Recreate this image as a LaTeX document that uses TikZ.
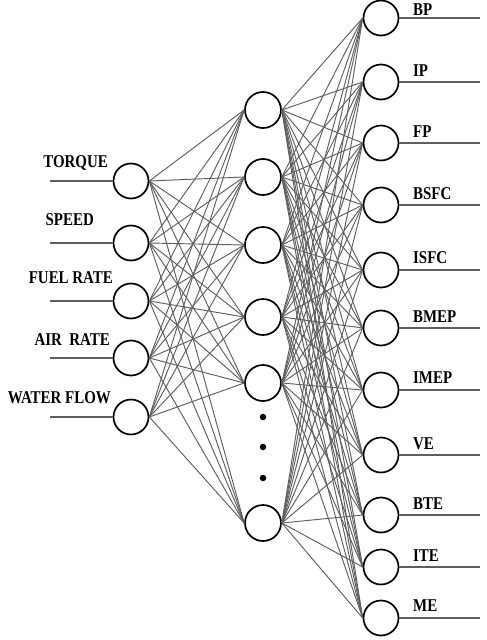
\documentclass[tikz,border=0pt]{standalone}
\usepackage{fontspec}
\setmainfont{Liberation Serif}
\definecolor{conncol}{RGB}{95,95,95}
\begin{document}
\begin{tikzpicture}[x=1pt,y=-1pt,
  neuron/.style={circle,draw=black,line width=1.7pt,minimum size=35pt,inner sep=0pt,fill=white},
  conn/.style={draw=conncol,line width=0.95pt},
  ioline/.style={draw=conncol,line width=1.3pt},
  lab/.style={font=\bfseries\fontsize{18}{18}\selectfont,inner sep=0pt,xscale=0.83},
  dotn/.style={circle,fill=black,minimum size=6.5pt,inner sep=0pt}]
\useasboundingbox (0,0) rectangle (487,640);
% input layer
\foreach \n/\y in {1/181,2/243,3/301,4/358,5/417}{
  \node[neuron] (i\n) at (131,\y) {};
  \coordinate (ia\n) at (50,\y);
  \draw[ioline] (ia\n) -- (i\n.west);
}
% hidden layer
\foreach \n/\y in {1/110,2/177,3/245,4/317,5/383,6/523}{
  \node[neuron,minimum size=36pt] (h\n) at (263,\y) {};
}
\node[dotn] (d1) at (263,417) {};
\node[dotn] (d2) at (263,447) {};
\node[dotn] (d3) at (263,478) {};
% output layer
\foreach \n/\y in {1/18,2/82,3/143,4/205,5/270,6/328,7/390,8/455,9/515,10/567,11/618}{
  \node[neuron] (o\n) at (381,\y) {};
  \coordinate (oe\n) at (480,\y);
  \draw[ioline] (o\n.east) -- (oe\n);
}
% connections
\foreach \a in {1,...,5}{
  \foreach \b in {1,...,6}{
    \draw[conn] (i\a.east) -- (h\b.west);
  }
}
\foreach \a in {1,...,6}{
  \foreach \b in {1,...,11}{
    \draw[conn] (h\a.east) -- (o\b.west);
  }
}
% input labels
\node[lab,anchor=east] (l1) at (108,163) {TORQUE};
\node[lab,anchor=east] (l2) at (94,220) {SPEED};
\node[lab,anchor=east] (l3) at (113,278) {FUEL RATE};
\node[lab,anchor=east] (l4) at (110,340) {AIR~~RATE};
\node[lab,anchor=east] (l5) at (111,398) {WATER FLOW};
% output labels
\foreach \n/\y/\t in {1/10/BP,2/71/IP,3/132/FP,4/194/BSFC,5/258/ISFC,6/317/BMEP,7/378/IMEP,8/444/VE,9/504/BTE,10/556/ITE,11/606/ME}{
  \node[lab,anchor=west] (r\n) at (413,\y) {\t};
}
\end{tikzpicture}
\end{document}
